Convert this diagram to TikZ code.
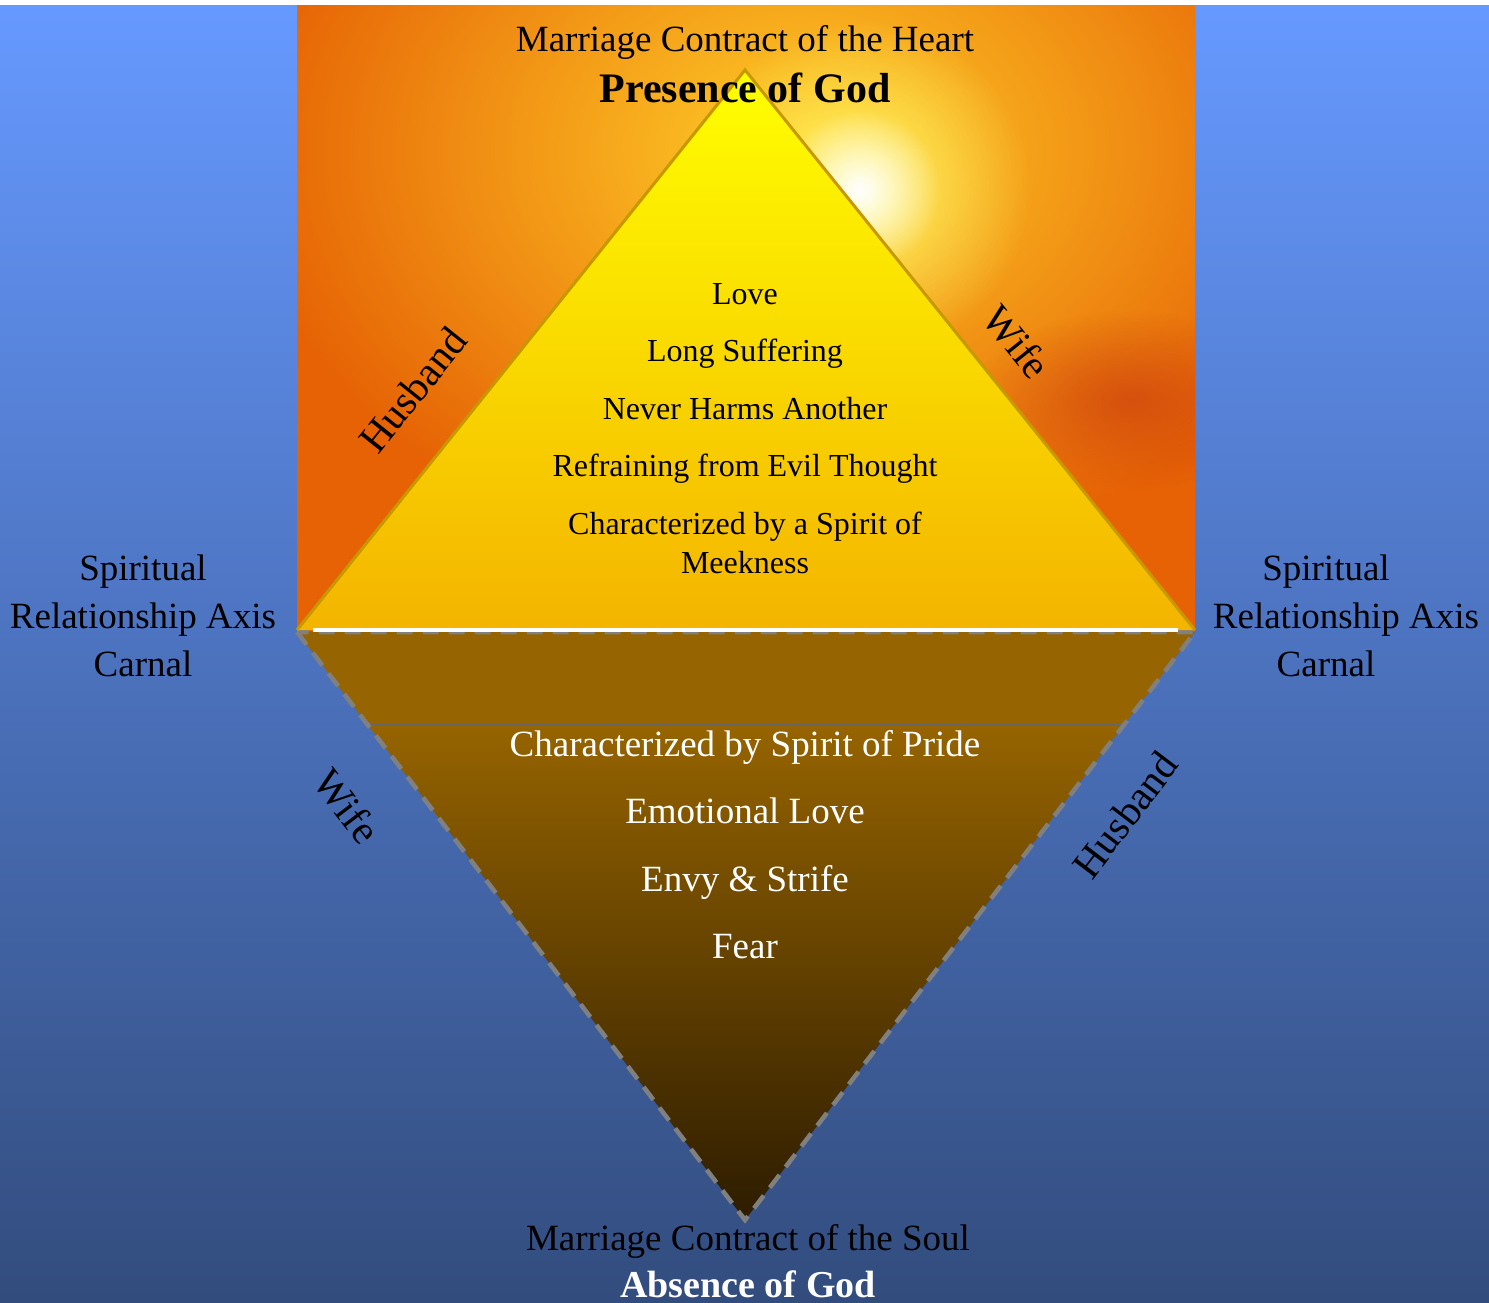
\documentclass[tikz,border=0pt]{standalone}
\usepackage{fontspec}
\setmainfont{Liberation Serif}
\usetikzlibrary{calc}
\usetikzlibrary{fadings}

\definecolor{bgtop}{RGB}{102,153,255}
\definecolor{bgbot}{RGB}{50,76,125}
\definecolor{sunedge}{RGB}{230,98,5}
\definecolor{sunmid}{RGB}{246,150,12}
\definecolor{sunglowc}{RGB}{255,205,40}
\definecolor{sunred}{RGB}{205,65,15}
\definecolor{pyrtop}{RGB}{255,255,0}
\definecolor{pyrbot}{RGB}{244,180,0}
\definecolor{pyrline}{RGB}{200,152,0}
\definecolor{pittop}{RGB}{150,100,0}
\definecolor{pitbot}{RGB}{45,28,0}
\tikzfading[name=sunglow, inner color=transparent!0, outer color=transparent!100]

\begin{document}
\begin{tikzpicture}[x=1pt,y=-1pt,
	lbl/.style={inner sep=0pt,font=\fontsize{37}{48}\selectfont,align=center},
	virtue/.style={inner sep=0pt,anchor=base,font=\fontsize{32}{39}\selectfont,align=center},
	vice/.style={inner sep=0pt,anchor=base,font=\fontsize{37}{44}\selectfont,text=white},
	side/.style={inner sep=0pt,font=\fontsize{41}{48}\selectfont}]
	\useasboundingbox (0,0) rectangle (1489,1303);
	% background
	\shade[top color=bgtop,bottom color=bgbot] (0,6) rectangle (1489,1303);
	\begin{scope}
		\clip (297,6) rectangle (1195,630);
		\shade[left color=sunedge,middle color=sunmid,right color=sunedge] (297,6) rectangle (1195,630);
		\fill[sunglowc,path fading=sunglow] (800,150) ellipse (560 and 420);
		\fill[sunred,path fading=sunglow,opacity=0.7] (1130,400) ellipse (160 and 90);
		\fill[yellow!60!white,path fading=sunglow] (860,190) circle (170);
		\fill[white,path fading=sunglow] (860,190) circle (80);
	\end{scope}
	\coordinate (A) at (745,70); \coordinate (L) at (297,630); \coordinate (R) at (1195,630);
	\coordinate (L2) at (297,632); \coordinate (R2) at (1195,632); \coordinate (B) at (745,1220);
	% lower triangle
	\begin{scope}
		\clip (L2) -- (R2) -- (B) -- cycle;
		\fill[pittop] (297,632) rectangle (1195,725);
		\shade[top color=pittop,bottom color=pitbot] (297,725) rectangle (1195,1220);
	\end{scope}
	\draw[gray!80!black,line width=1.2pt] ($(L2)!0.158!(B)$) -- ($(R2)!0.158!(B)$);
	\draw[gray,line width=4.5pt,dash pattern=on 16pt off 10pt] (L2) -- (B) -- (R2) -- (L2);
	% upper triangle
	\shade[top color=pyrtop,bottom color=pyrbot] (A) -- (R) -- (L) -- cycle;
	\draw[pyrline,line width=3pt,line join=miter] (L) -- (A) -- (R);
	\draw[white,line width=4pt] (313,630) -- (1178,630);
	% texts
	\node[lbl] (heart) at (745,42) {Marriage Contract of the Heart};
	\node[lbl,font=\fontsize{42}{48}\selectfont\bfseries] (god) at (745,88) {Presence of God};
	\foreach \txt [count=\i] in {Love,Long Suffering,Never Harms Another,Refraining from Evil Thought,Characterized by a Spirit of}
		\node[virtue] (v\i) at (745,304+57.5*\i-57.5) {\txt};
	\node[virtue] (v6) at (745,573) {Meekness};
	\foreach \txt [count=\i] in {Characterized by Spirit of Pride,Emotional Love,Envy \& Strife,Fear}
		\node[vice] (p\i) at (745,756+67.5*\i-67.5) {\txt};
	\node[lbl] (axisL) at (143,616) {Spiritual\\Relationship Axis\\Carnal};
	\node[lbl] (axisR) at (1326,616) {Spiritual\\\hspace*{40pt}Relationship Axis\\Carnal};
	\node[side,rotate=51.3] (husU) at (413,390) {Husband};
	\node[side,rotate=-51.3] (wifU) at (1017,342) {Wife};
	\node[side,rotate=-52.7] (wifD) at (347,806) {Wife};
	\node[side,rotate=52.7] (husD) at (1125,815) {Husband};
	\node[lbl] (soul) at (748,1241) {Marriage Contract of the Soul};
	\node[lbl,font=\fontsize{38}{44}\selectfont\bfseries,text=white] (nogod) at (748,1284) {Absence of God};
\end{tikzpicture}
\end{document}
